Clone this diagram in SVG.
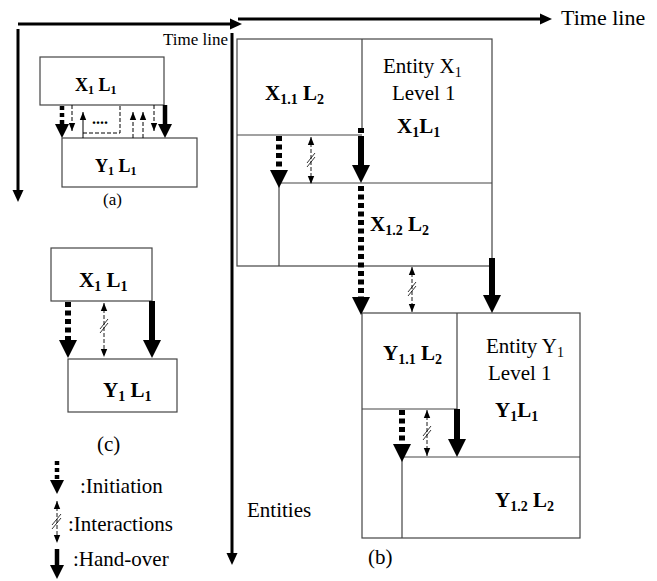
<svg xmlns="http://www.w3.org/2000/svg" width="657" height="581" viewBox="0 0 657 581">
<style>
text{font-family:"Liberation Serif","Times New Roman",serif;fill:#000}
.b{font-weight:bold}
.box{fill:none;stroke:#444;stroke-width:1.2}
.ln{stroke:#444;stroke-width:1.2;fill:none}
.axis{stroke:#000;stroke-width:3;fill:none}
.init{stroke:#000;stroke-width:6;stroke-dasharray:5 3.5;fill:none}
.init-s{stroke:#000;stroke-width:4.5;stroke-dasharray:4 3;fill:none}
.hand{stroke:#000;stroke-width:6;fill:none}
.hand-s{stroke:#000;stroke-width:4.5;fill:none}
.inter{stroke:#000;stroke-width:0.9;stroke-dasharray:4 2;fill:none}
.thin{stroke:#000;stroke-width:1;fill:none}
.dash{stroke:#000;stroke-width:1;stroke-dasharray:4 2;fill:none}
.slash{stroke:#000;stroke-width:0.8;fill:none}
</style>
<defs>
<marker id="hb" markerUnits="userSpaceOnUse" markerWidth="20" markerHeight="20" viewBox="0 -10 20 20" refX="0" refY="0" orient="auto"><path d="M0,-9 L18,0 L0,9z" fill="#000"/></marker>
<marker id="hm" markerUnits="userSpaceOnUse" markerWidth="16" markerHeight="16" viewBox="0 -8 16 16" refX="0" refY="0" orient="auto"><path d="M0,-7 L14,0 L0,7z" fill="#000"/></marker>
<marker id="hs" markerUnits="userSpaceOnUse" markerWidth="10" markerHeight="10" viewBox="0 -5 10 10" refX="8" refY="0" orient="auto-start-reverse"><path d="M0,-3.2 L8,0 L0,3.2z" fill="#000"/></marker>
<marker id="ha" markerUnits="userSpaceOnUse" markerWidth="14" markerHeight="14" viewBox="0 -7 14 14" refX="0" refY="0" orient="auto"><path d="M0,-5.5 L12,0 L0,5.5z" fill="#000"/></marker>
</defs>

<g id="axes">
<path class="axis" d="M18,24 H230" marker-end="url(#ha)"/>
<path class="axis" d="M18,29 V190" marker-end="url(#ha)"/>
<text x="163" y="45" font-size="17">Time line</text>
<path class="axis" d="M238,19 H540" marker-end="url(#ha)"/>
<path class="axis" d="M232,33 V553" marker-end="url(#ha)"/>
<text x="561" y="25" font-size="22">Time line</text>
<text x="247" y="517" font-size="21">Entities</text>
</g>

<g id="a-x1l1">
<rect class="box" x="40" y="57" width="124" height="48"/>
<text class="b" x="75" y="91" font-size="18">X<tspan font-size="12" dy="3">1</tspan><tspan dy="-3"> L</tspan><tspan font-size="12" dy="3">1</tspan></text>
</g>
<g id="a-y1l1">
<rect class="box" x="62" y="138" width="135" height="49"/>
<text class="b" x="95" y="172" font-size="18">Y<tspan font-size="12" dy="3">1</tspan><tspan dy="-3"> L</tspan><tspan font-size="12" dy="3">1</tspan></text>
</g>
<text x="103" y="205" font-size="17">(a)</text>

<g id="c-x1l1">
<rect class="box" x="51" y="248" width="101" height="53"/>
<text class="b" x="79" y="287" font-size="21">X<tspan font-size="14" dy="4">1</tspan><tspan dy="-4"> L</tspan><tspan font-size="14" dy="4">1</tspan></text>
</g>
<g id="c-y1l1">
<rect class="box" x="68" y="359" width="109" height="53"/>
<text class="b" x="103" y="397" font-size="21">Y<tspan font-size="14" dy="4">1</tspan><tspan dy="-4"> L</tspan><tspan font-size="14" dy="4">1</tspan></text>
</g>
<text x="97" y="451" font-size="21">(c)</text>

<g id="entity-x1">
<rect class="box" x="237" y="39" width="255" height="227"/>
<text x="383" y="73" font-size="21">Entity X<tspan font-size="14" dy="4">1</tspan></text>
<text x="392" y="100" font-size="21">Level 1</text>
<text class="b" x="397" y="133" font-size="21">X<tspan font-size="14" dy="4">1</tspan><tspan dy="-4">L</tspan><tspan font-size="14" dy="4">1</tspan></text>
</g>
<g id="x11-l2">
<path class="ln" d="M362,39 V128 M237,135 H362"/>
<text class="b" x="265" y="100" font-size="21">X<tspan font-size="14" dy="4">1.1</tspan><tspan dy="-4"> L</tspan><tspan font-size="14" dy="4">2</tspan></text>
</g>
<g id="x12-l2">
<path class="ln" d="M279,183 H492 M279,183 V266"/>
<text class="b" x="370" y="231" font-size="21">X<tspan font-size="14" dy="4">1.2</tspan><tspan dy="-4"> L</tspan><tspan font-size="14" dy="4">2</tspan></text>
</g>

<g id="entity-y1">
<rect class="box" x="362" y="313" width="218" height="225"/>
<text x="486" y="353" font-size="21">Entity Y<tspan font-size="14" dy="4">1</tspan></text>
<text x="488" y="380" font-size="21">Level 1</text>
<text class="b" x="495" y="417" font-size="21">Y<tspan font-size="14" dy="4">1</tspan><tspan dy="-4">L</tspan><tspan font-size="14" dy="4">1</tspan></text>
</g>
<g id="y11-l2">
<path class="ln" d="M457,313 V409 M362,409 H457"/>
<text class="b" x="383" y="360" font-size="21">Y<tspan font-size="14" dy="4">1.1</tspan><tspan dy="-4"> L</tspan><tspan font-size="14" dy="4">2</tspan></text>
</g>
<g id="y12-l2">
<path class="ln" d="M402,457 H580 M402,457 V538"/>
<text class="b" x="495" y="507" font-size="21">Y<tspan font-size="14" dy="4">1.2</tspan><tspan dy="-4"> L</tspan><tspan font-size="14" dy="4">2</tspan></text>
</g>
<text x="368" y="564" font-size="21">(b)</text>

<g id="connectors">
<!-- (a) -->
<path class="init-s" d="M62,106 V124" marker-end="url(#hm)"/>
<path class="dash" d="M72,105 V131" marker-end="url(#hs)"/>
<path class="thin" d="M83,138 V112" marker-end="url(#hs)"/>
<path class="dash" d="M83,133 H120 V105"/>
<text class="b" x="92" y="124" font-size="16">....</text>
<path class="dash" d="M133,138 V112" marker-end="url(#hs)"/>
<path class="dash" d="M143,138 V112" marker-end="url(#hs)"/>
<path class="dash" d="M154,105 V131" stroke="#555" marker-end="url(#hs)"/>
<path class="hand-s" d="M165,105 V124" marker-end="url(#hm)"/>
<!-- (c) -->
<path class="init" d="M68,302 V340" marker-end="url(#hb)"/>
<path class="inter" d="M104,303 V357" marker-start="url(#hs)" marker-end="url(#hs)"/>
<path class="slash" d="M100,329 L108,319 M100,333 L108,323"/>
<path class="hand" d="M152,301 V340" marker-end="url(#hb)"/>
<!-- (b) entity X -->
<path class="init" d="M279,136 V170" marker-end="url(#hb)"/>
<path class="inter" d="M311,137 V184" marker-start="url(#hs)" marker-end="url(#hs)"/>
<path class="slash" d="M307,163 L315,153 M307,167 L315,157"/>
<path class="hand" d="M361,128 V133 M361,136 V165" marker-end="url(#hb)"/>
<path class="init" d="M361,186 V297" marker-end="url(#hb)"/>
<path class="inter" d="M412,267 V312" marker-start="url(#hs)" marker-end="url(#hs)"/>
<path class="slash" d="M408,292 L416,282 M408,296 L416,286"/>
<path class="hand" d="M492,258 V295" marker-end="url(#hb)"/>
<!-- (b) entity Y -->
<path class="init" d="M402,410 V444" marker-end="url(#hb)"/>
<path class="inter" d="M427,410 V456" marker-start="url(#hs)" marker-end="url(#hs)"/>
<path class="slash" d="M423,436 L431,426 M423,440 L431,430"/>
<path class="hand" d="M457,409 V439" marker-end="url(#hb)"/>
</g>

<g id="legend">
<path class="init-s" d="M57,461 V480" marker-end="url(#hm)"/>
<text x="80" y="493" font-size="21">:Initiation</text>
<path class="inter" d="M57,501 V543" marker-start="url(#hs)" marker-end="url(#hs)"/>
<path class="slash" d="M52,525 L61,514 M52,529 L61,518"/>
<text x="68" y="531" font-size="21">:Interactions</text>
<path class="hand-s" d="M57,549 V565" marker-end="url(#hm)"/>
<text x="73" y="566" font-size="21">:Hand-over</text>
</g>
</svg>
